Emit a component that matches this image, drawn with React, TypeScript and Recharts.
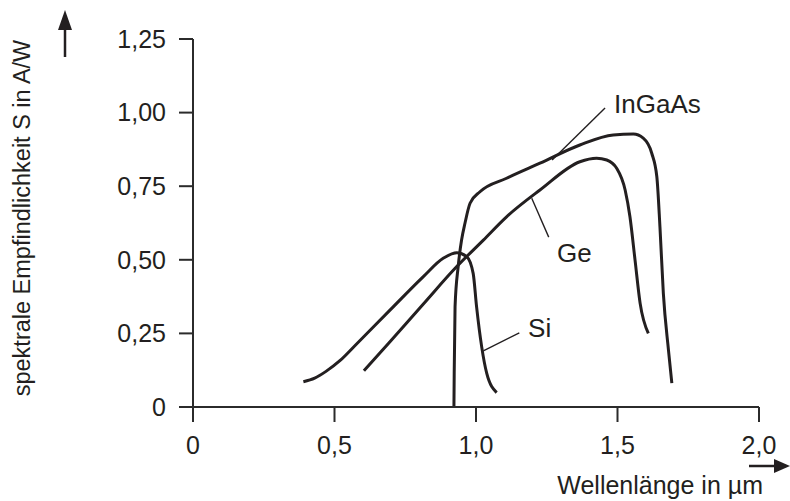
import React from "react";
import { LineChart, Line, XAxis, YAxis, ReferenceLine, ReferenceDot } from "recharts";

const INK = "#231f20";
const FONT = "'Liberation Sans', Arial, sans-serif";

// axis ticks
const xTicks = [0, 0.5, 1, 1.5, 2];
const xTickLabels = ["0", "0,5", "1,0", "1,5", "2,0"];
const yTicks = [0, 0.25, 0.5, 0.75, 1, 1.25];
const yTickLabels = ["0", "0,25", "0,50", "0,75", "1,00", "1,25"];

// Si photodiode
const siWave = [0.39, 0.43, 0.47, 0.52, 0.578, 0.696, 0.814, 0.884, 0.932, 0.967, 0.99, 1.002, 1.02, 1.038, 1.073];
const siResp = [0.086, 0.098, 0.121, 0.158, 0.214, 0.329, 0.443, 0.505, 0.524, 0.511, 0.454, 0.341, 0.205, 0.114, 0.049];

// Ge photodiode
const geWave = [0.604, 0.696, 0.814, 0.932, 1.026, 1.108, 1.226, 1.367, 1.426, 1.462, 1.497, 1.527, 1.544, 1.562, 1.58, 1.609];
const geResp = [0.123, 0.222, 0.35, 0.477, 0.567, 0.646, 0.737, 0.833, 0.845, 0.839, 0.811, 0.737, 0.646, 0.499, 0.352, 0.25];

// InGaAs photodiode
const ingaasWave = [0.922, 0.923, 0.926, 0.937, 0.949, 0.961, 0.979, 1.014, 1.108, 1.226, 1.367, 1.485, 1.556, 1.591, 1.621, 1.639, 1.65, 1.662, 1.68, 1.692];
const ingaasResp = [0.0, 0.114, 0.341, 0.477, 0.567, 0.624, 0.692, 0.731, 0.777, 0.828, 0.89, 0.924, 0.927, 0.913, 0.862, 0.782, 0.612, 0.386, 0.194, 0.081];

// curve labels with their pointer lines
const labelNames = ["InGaAs", "Ge", "Si"];
const labelAt = [[1.488, 1.029], [1.286, 0.523], [1.184, 0.268]];
const pointerFrom = [[1.269, 0.839], [1.197, 0.709], [1.026, 0.191]];
const pointerTo = [[1.456, 1.016], [1.257, 0.577], [1.153, 0.252]];

const zip = (w: number[], s: number[]) => w.map((v, i) => ({ w: v, s: s[i] }));
const series = [zip(siWave, siResp), zip(geWave, geResp), zip(ingaasWave, ingaasResp)];

const renderYTitle = (props: any) => {
  const { x, y, height } = props.viewBox;
  const cx = x + 22;
  const cy = y + height / 2 - 5;
  const ax = x + 65;
  return (
    <g>
      <text
        x={cx}
        y={cy}
        transform={`rotate(-90 ${cx} ${cy})`}
        textAnchor="middle"
        dominantBaseline="central"
        fontSize={23.5}
        fill={INK}
        fontFamily={FONT}
      >
        spektrale Empfindlichkeit S in A/W
      </text>
      <line x1={ax} y1={y + 18} x2={ax} y2={y - 10} stroke={INK} strokeWidth={2.5} />
      <path d={`M${ax} ${y - 29} L${ax - 7} ${y - 9} L${ax + 7} ${y - 9} Z`} fill={INK} />
    </g>
  );
};

const renderXTitle = (props: any) => {
  const { x, y, width } = props.viewBox;
  const right = x + width;
  return (
    <g>
      <line x1={x - 13} y1={y} x2={x} y2={y} stroke="#2b2b2b" strokeWidth={2} />
      <text
        x={right + 4}
        y={y + 78}
        textAnchor="end"
        dominantBaseline="central"
        fontSize={25}
        fill={INK}
        fontFamily={FONT}
      >
        Wellenlänge in µm
      </text>
      <line x1={right - 10} y1={y + 59} x2={right + 18} y2={y + 59} stroke={INK} strokeWidth={2.5} />
      <path d={`M${right + 31} ${y + 59} L${right + 15} ${y + 52} L${right + 15} ${y + 66} Z`} fill={INK} />
    </g>
  );
};

export default function App() {
  return (
    <div style={{ position: "absolute", left: 0, top: 0, background: "#fff" }}>
      <LineChart width={790} height={501} margin={{ top: 39, right: 31, bottom: 34, left: 0 }}>
        <XAxis
          type="number"
          dataKey="w"
          domain={[0, 2]}
          ticks={xTicks}
          tickFormatter={(v: number) => xTickLabels[xTicks.indexOf(v)]}
          height={60}
          tickSize={15}
          tickMargin={14}
          axisLine={{ stroke: "#2b2b2b", strokeWidth: 2 }}
          tickLine={{ stroke: "#2b2b2b", strokeWidth: 2 }}
          tick={{ fill: INK, fontSize: 25, fontFamily: FONT }}
          label={renderXTitle}
        />
        <YAxis
          type="number"
          domain={[0, 1.25]}
          ticks={yTicks}
          tickFormatter={(v: number) => yTickLabels[yTicks.indexOf(v)]}
          width={193}
          tickSize={14}
          tickMargin={13}
          axisLine={{ stroke: "#2b2b2b", strokeWidth: 2 }}
          tickLine={{ stroke: "#2b2b2b", strokeWidth: 2 }}
          tick={{ fill: INK, fontSize: 25, fontFamily: FONT }}
          label={renderYTitle}
        />
        {series.map((d, i) => (
          <Line
            key={i}
            data={d}
            dataKey="s"
            type="monotone"
            dot={false}
            stroke={INK}
            strokeWidth={3}
            isAnimationActive={false}
          />
        ))}
        {labelNames.map((name, i) => (
          <ReferenceLine
            key={"p" + name}
            segment={[
              { x: pointerFrom[i][0], y: pointerFrom[i][1] },
              { x: pointerTo[i][0], y: pointerTo[i][1] },
            ]}
            stroke={INK}
            strokeWidth={1.4}
          />
        ))}
        {labelNames.map((name, i) => (
          <ReferenceDot
            key={"l" + name}
            x={labelAt[i][0]}
            y={labelAt[i][1]}
            r={0}
            fill="none"
            stroke="none"
            label={{ value: name, position: "right", offset: 0, fill: INK, fontSize: 26, fontFamily: FONT }}
          />
        ))}
      </LineChart>
    </div>
  );
}
